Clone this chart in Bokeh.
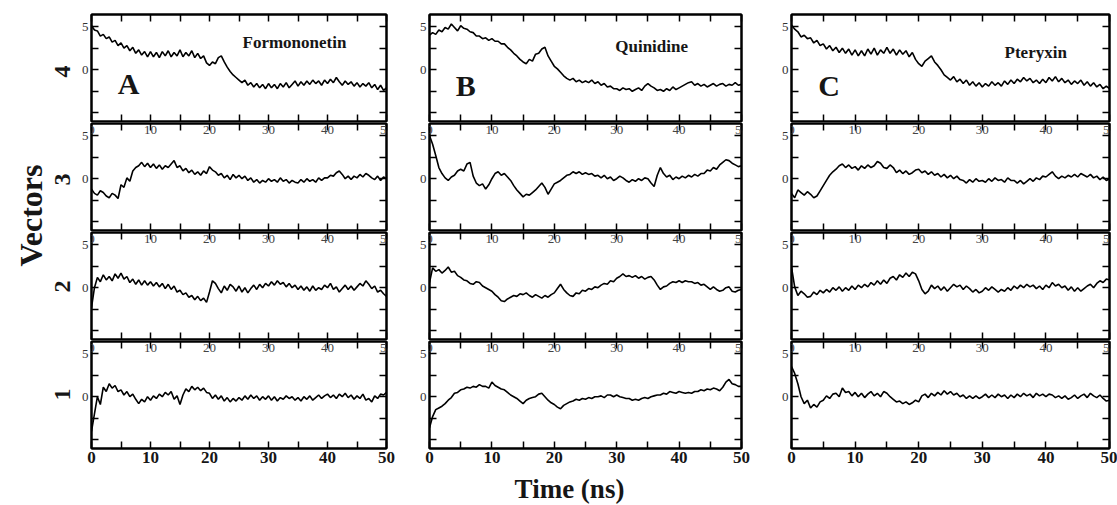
from math import pi
from bokeh.plotting import figure
from bokeh.models import Range1d, LinearAxis, FixedTicker, Label, LabelSet, ColumnDataSource
from bokeh.layouts import row, column
from bokeh.embed import file_html
from bokeh.resources import INLINE

# ---------------- data ----------------
time_ns = [i * 0.5 for i in range(101)]          # 0 .. 50 ns, 0.5 ns sampling
compounds = ["Formononetin", "Quinidine", "Pteryxin"]
panel_letters = ["A", "B", "C"]
vector_names = ["4", "3", "2", "1"]
x_major = [0, 10, 20, 30, 40, 50]
x_minor = [5, 15, 25, 35, 45]
x_tick_labels = ["0", "10", "20", "30", "40", "50"]
y_major = [-5, 0, 5]
y_minor = [-2.5, 2.5]

# Formononetin (A)
A4 = [5.1, 4.6, 4.5, 3.9, 4.1, 3.6, 3.8, 3.2, 3.4, 2.8,
      3.1, 2.5, 2.8, 2.2, 2.6, 1.9, 2.3, 1.7, 2.1, 1.5,
      2.1, 1.5, 2.0, 1.4, 2.1, 1.6, 2.2, 1.5, 2.0, 1.6,
      2.3, 1.5, 2.0, 1.6, 2.2, 1.4, 1.9, 1.3, 1.6, 0.8,
      0.5, 0.9, 0.7, 1.4, 1.6, 0.9, 0.3, -0.2, -0.6, -0.9,
      -1.2, -1.5, -1.2, -1.8, -1.5, -2.0, -1.6, -2.1, -1.7, -2.2,
      -1.6, -2.1, -1.7, -2.2, -1.6, -2.0, -1.5, -2.1, -1.7, -1.3,
      -1.9, -1.4, -1.8, -1.3, -1.7, -1.2, -1.6, -1.3, -1.8, -1.2,
      -1.6, -1.1, -1.5, -0.9, -1.4, -1.8, -1.3, -1.7, -1.4, -1.9,
      -1.5, -2.0, -1.6, -1.9, -1.5, -2.1, -1.7, -2.3, -1.8, -2.4,
      -2.1]
A3 = [-1.2, -1.7, -1.9, -1.4, -1.6, -2.0, -2.2, -1.7, -1.9, -2.3,
      -0.7, -1.0, 0.1, -0.3, 0.9, 1.3, 1.5, 1.9, 1.4, 1.8,
      1.3, 1.7, 1.2, 1.6, 1.1, 1.5, 1.3, 1.7, 2.1, 1.3,
      1.5, 0.9, 1.2, 0.7, 1.0, 0.5, 0.8, 0.4, 0.9, 0.6,
      1.4, 1.0, 0.8, 0.4, 0.6, 0.1, 0.4, -0.1, 0.5, 0.1,
      0.4, 0.0, 0.3, -0.2, 0.1, -0.4, -0.1, -0.5, -0.2, -0.4,
      0.0, -0.3, -0.1, -0.4, 0.1, -0.3, -0.1, -0.5, -0.2, -0.4,
      -0.5, -0.1, -0.4, 0.0, -0.3, -0.1, -0.4, 0.1, -0.2, 0.1,
      0.1, 0.4, 0.3, 0.7, 0.9, 0.5, 0.0, 0.3, -0.1, 0.3,
      0.1, 0.5, 0.2, 0.6, 0.4, 0.1, -0.1, 0.3, -0.2, 0.2,
      0.0]
A2 = [-2.3, 0.0, 1.2, 0.7, 1.5, 0.9, 1.3, 0.8, 1.6, 1.1,
      1.7, 1.0, 1.3, 0.6, 1.0, 0.4, 0.9, 0.3, 0.8, 0.3,
      0.7, 0.2, 0.6, 0.1, 0.5, -0.1, 0.4, -0.2, 0.2, -0.5,
      -0.3, -0.8, -0.6, -1.1, -0.9, -1.4, -1.0, -1.5, -1.2, -1.7,
      -0.5, 0.8, 0.5, -0.1, -0.6, 0.2, -0.3, 0.4, 0.1, -0.4,
      0.2, -0.5, 0.0, -0.6, -0.1, 0.3, -0.2, 0.4, 0.0, 0.5,
      0.2, 0.7, 0.3, 0.8, 0.4, 0.6, 0.1, 0.5, 0.0, 0.3,
      -0.2, 0.2, -0.3, 0.1, -0.4, 0.2, -0.3, 0.0, -0.2, 0.3,
      0.0, 0.5, -0.2, 0.1, -0.5, -0.1, 0.3, -0.2, 0.2, -0.3,
      0.1, 0.5, 0.2, 0.8, 0.4, -0.1, 0.2, -0.5, -0.3, -0.7,
      -1.0]
A1 = [-4.0, -2.0, 0.0, -0.9, 1.1, 0.6, 1.5, 1.0, 1.3, 0.6,
      0.8, 0.2, 0.6, 0.0, 0.3, -0.3, -0.8, -0.3, -0.6, 0.0,
      -0.4, 0.1, -0.2, 0.3, 0.0, 0.5, 0.2, 0.6, -0.3, 0.1,
      -0.9, 0.2, 0.9, 0.6, 1.2, 0.8, 1.1, 0.7, 1.0, 0.5,
      0.4, -0.2, 0.2, -0.3, 0.1, -0.5, -0.1, -0.6, -0.2, -0.5,
      -0.1, -0.4, 0.1, -0.3, 0.2, -0.2, 0.1, -0.4, 0.0, -0.3,
      0.1, -0.4, 0.0, -0.5, -0.1, -0.3, 0.1, -0.2, 0.0, -0.4,
      -0.1, -0.5, 0.0, -0.3, 0.1, -0.4, -0.1, 0.2, -0.2, 0.1,
      0.3, -0.1, 0.2, -0.2, 0.3, 0.0, 0.4, -0.1, 0.2, -0.3,
      0.1, -0.2, 0.3, -0.4, -0.2, -0.6, 0.1, -0.2, 0.3, 0.2,
      0.5]

# Quinidine (B)
B4 = [4.0, 4.3, 4.1, 4.6, 4.4, 4.9, 4.7, 5.3, 4.9, 4.5,
      5.1, 4.8, 4.7, 4.4, 4.3, 3.9, 3.9, 3.6, 3.7, 3.4,
      3.6, 3.3, 3.3, 3.0, 3.0, 2.6, 2.3, 1.9, 1.6, 1.2,
      0.9, 0.7, 1.2, 1.0, 1.8, 1.9, 2.4, 2.6, 1.6, 1.0,
      0.4, 0.1, -0.3, -0.7, -1.0, -1.2, -1.0, -1.4, -1.2, -1.5,
      -1.3, -1.5, -1.2, -1.6, -1.4, -1.8, -1.6, -2.0, -1.9, -2.2,
      -2.2, -2.4, -2.1, -2.3, -2.2, -2.5, -2.3, -2.1, -2.4, -1.9,
      -1.6, -1.9, -2.1, -2.4, -2.3, -2.5, -2.2, -2.4, -2.0, -2.3,
      -2.1, -1.9, -1.7, -1.5, -1.4, -1.8, -1.6, -1.9, -1.7, -2.0,
      -1.8, -1.6, -1.9, -1.7, -1.6, -1.9, -1.7, -1.8, -1.5, -1.8,
      -1.7]
B3 = [5.0, 4.0, 2.7, 1.3, 0.6, 0.1, -0.2, 0.2, 0.4, 0.9,
      1.1, 0.9, 1.7, 1.9, 0.3, -0.5, -0.8, -0.6, -1.2, -0.7,
      0.0, 0.6, 0.8, 0.4, 0.6, 0.2, -0.2, -0.8, -1.3, -1.7,
      -2.1, -1.8, -1.9, -1.6, -1.3, -0.9, -0.5, -1.0, -1.8, -1.2,
      -0.6, -0.4, -0.2, 0.1, 0.4, 0.5, 0.8, 0.6, 0.8, 0.5,
      0.7, 0.5, 0.6, 0.3, 0.4, 0.1, 0.4, 0.0, 0.2, -0.2,
      0.0, 0.3, 0.1, -0.2, -0.4, -0.1, -0.3, 0.0, -0.2, 0.1,
      0.0, -0.5, -0.9, 0.4, 1.3, 0.6, 0.2, 0.4, -0.1, 0.2,
      0.0, 0.3, 0.1, 0.4, 0.2, 0.5, 0.3, 0.6, 0.6, 1.0,
      0.9, 1.3, 1.1, 1.6, 1.9, 2.2, 2.1, 1.8, 1.6, 1.4,
      1.5]
B2 = [0.6, 2.3, 1.9, 2.1, 1.7, 2.0, 2.4, 1.8, 1.9, 1.4,
      1.2, 0.9, 0.8, 0.5, 0.4, 0.7, 0.6, 0.2, 0.0, -0.2,
      -0.4, -0.8, -1.1, -1.5, -1.6, -1.3, -1.1, -0.9, -1.0, -0.7,
      -0.8, -0.6, -0.9, -1.1, -0.8, -1.0, -1.2, -0.9, -1.1, -0.8,
      -0.6, -0.1, 0.4, -0.2, -0.6, -0.9, -1.0, -0.6, -0.7, -0.3,
      -0.4, -0.1, -0.2, 0.1, 0.0, 0.3, 0.5, 0.4, 0.8, 0.7,
      1.1, 1.3, 1.6, 1.3, 1.4, 1.2, 1.4, 1.1, 1.3, 1.0,
      1.2, 1.3, 0.9, 0.3, -0.2, 0.1, 0.2, 0.5, 0.7, 0.6,
      0.8, 0.6, 0.8, 0.7, 0.7, 0.5, 0.6, 0.3, 0.4, 0.1,
      -0.2, 0.1, -0.2, -0.4, -0.3, 0.0, 0.1, -0.4, -0.5, -0.3,
      -0.2]
B1 = [-3.6, -2.3, -1.5, -1.3, -1.1, -0.8, -0.4, -0.1, 0.4, 0.5,
      0.8, 0.9, 1.1, 1.0, 1.2, 1.1, 1.4, 1.2, 1.2, 1.0,
      1.7, 1.3, 1.1, 0.9, 0.8, 0.5, 0.2, 0.0, -0.2, -0.5,
      -0.8, -0.4, -0.2, -0.1, 0.0, 0.3, 0.4, 0.0, -0.4, -0.7,
      -0.9, -1.2, -1.4, -1.0, -0.8, -0.6, -0.5, -0.3, -0.4, -0.2,
      -0.3, -0.1, -0.2, 0.0, 0.0, 0.1, -0.1, 0.2, 0.2, 0.0,
      0.2, 0.0, -0.1, -0.2, -0.2, -0.4, -0.3, -0.4, -0.2, -0.1,
      -0.2, 0.0, 0.1, 0.2, 0.2, 0.4, 0.3, 0.6, 0.5, 0.4,
      0.6, 0.5, 0.4, 0.5, 0.4, 0.6, 0.6, 0.8, 0.7, 0.9,
      0.8, 1.0, 0.9, 0.7, 1.1, 1.7, 2.0, 1.5, 1.4, 1.2,
      1.2]

# Pteryxin (C)
C4 = [5.2, 4.7, 4.4, 3.8, 4.0, 3.6, 3.7, 3.1, 3.4, 2.8,
      3.0, 2.4, 2.8, 2.2, 2.6, 2.0, 2.5, 1.9, 2.4, 1.7,
      2.3, 1.6, 2.2, 1.6, 2.4, 1.8, 2.5, 1.7, 2.3, 1.9,
      2.6, 1.9, 2.4, 1.7, 2.3, 1.8, 2.2, 1.5, 2.0, 1.2,
      0.7, 0.4, 1.0, 1.3, 1.6, 0.9, 0.5, 0.0, -0.6, -0.9,
      -1.2, -0.8, -1.4, -1.1, -1.6, -1.2, -1.8, -1.4, -1.9, -1.5,
      -2.0, -1.6, -1.9, -1.4, -1.8, -1.5, -1.9, -1.3, -1.7, -1.2,
      -1.6, -1.1, -1.4, -0.9, -1.3, -1.0, -1.5, -1.2, -1.6, -1.1,
      -1.5, -0.9, -1.3, -0.8, -1.4, -1.0, -1.5, -1.2, -1.7, -1.3,
      -1.6, -1.2, -1.8, -1.4, -1.9, -1.5, -2.0, -1.7, -2.2, -1.9,
      -2.2]
C3 = [-1.7, -2.2, -1.3, -1.6, -1.9, -1.5, -1.8, -2.2, -2.0, -1.4,
      -0.8, -0.2, 0.4, 0.8, 1.1, 1.5, 1.7, 1.3, 1.6, 1.2,
      1.4, 1.0, 1.5, 1.2, 1.6, 1.3, 1.5, 2.0, 1.8, 1.3,
      1.2, 1.6, 1.3, 0.7, 1.0, 0.6, 0.9, 0.5, 0.7, 1.0,
      1.1, 0.7, 0.9, 0.5, 0.8, 0.4, 0.6, 0.2, 0.5, 0.1,
      0.4, 0.0, 0.3, -0.1, -0.2, -0.5, -0.1, -0.4, 0.0, -0.3,
      -0.2, -0.4, 0.0, -0.3, 0.1, -0.2, -0.1, -0.4, 0.1, -0.2,
      -0.2, -0.5, -0.2, -0.6, -0.3, 0.0, -0.3, 0.1, -0.1, 0.3,
      0.2, 0.5, 0.8, 0.3, 0.0, 0.3, 0.1, 0.4, 0.2, 0.5,
      0.2, 0.6, 0.4, 0.2, 0.5, 0.1, 0.3, -0.1, 0.2, -0.2,
      0.0]
C2 = [2.4, 0.1, -0.9, -0.4, -0.7, -1.1, -1.0, -0.5, -0.8, -0.3,
      -0.6, -0.2, -0.5, 0.0, -0.3, 0.1, -0.4, 0.0, -0.3, 0.2,
      -0.2, 0.3, 0.0, 0.4, 0.1, 0.6, 0.3, 0.8, 0.4, 0.9,
      0.5, 1.1, 1.3, 0.9, 1.5, 1.2, 1.7, 1.3, 1.8, 1.6,
      0.8, -0.2, -0.7, -0.4, 0.3, -0.1, 0.2, -0.3, 0.1, -0.4,
      0.0, 0.4, 0.1, 0.3, -0.2, 0.2, -0.1, -0.5, -0.2, -0.6,
      -0.4, 0.0, -0.3, 0.1, -0.2, -0.5, -0.2, -0.4, 0.0, -0.3,
      0.2, -0.1, 0.3, 0.0, 0.4, 0.1, 0.3, -0.1, 0.2, -0.2,
      0.3, 0.0, 0.6, 0.2, 0.4, 0.0, 0.2, -0.3, 0.1, -0.4,
      0.0, -0.4, -0.1, 0.2, 0.4, 0.0, 0.5, 0.8, 0.6, 1.0,
      0.9]
C1 = [3.5, 2.7, 1.5, 0.0, -0.8, -0.4, -1.3, -0.9, -1.2, -0.6,
      -0.4, 0.1, -0.2, 0.3, 0.4, 0.0, 1.0, 0.5, 0.6, 0.1,
      0.5, 0.0, 0.4, -0.1, 0.3, 0.6, 0.1, 0.4, 0.0, 0.6,
      0.4, 0.0, -0.3, -0.6, -0.5, -0.8, -0.6, -0.9, -0.7, -0.4,
      -0.6, 0.1, 0.3, -0.1, 0.4, 0.1, 0.5, 0.2, 0.7, 0.3,
      0.6, 0.2, 0.4, 0.0, 0.2, -0.2, 0.1, -0.2, 0.1, -0.2,
      0.0, 0.3, -0.1, 0.2, -0.1, 0.3, 0.0, 0.2, -0.2, 0.2,
      -0.1, 0.3, 0.0, 0.4, 0.1, 0.3, -0.1, 0.4, 0.1, 0.3,
      0.0, 0.3, 0.2, -0.1, 0.1, -0.2, 0.1, -0.3, -0.1, 0.2,
      -0.2, 0.1, 0.3, -0.1, 0.4, 0.1, -0.1, 0.2, -0.2, -0.5,
      -0.4]

series = [[A4, A3, A2, A1], [B4, B3, B2, B1], [C4, C3, C2, C1]]

# ---------------- styling / layout ----------------
SERIF = "Liberation Serif"
INK = "#161616"
Y_MIN, Y_MAX = -6.0, 6.4
FRAME_H = 107
TOP_B = 14
BOTTOM_B = 24
frame_w = [295, 312, 318]
border_left = [16, 30, 35]
border_right = [13, 15, 8]
name_pos = [(34.4, 3.16), (35.6, 2.7), (38.4, 2.0)]
letter_pos = [(6.3, -1.6), (5.8, -1.8), (5.9, -1.8)]


def hide_labels(ax):
    ax.major_label_text_font_size = "0px"
    ax.major_label_text_color = None
    ax.major_label_standoff = 0


def style_axis(ax):
    ax.axis_line_color = "black"
    ax.axis_line_width = 2
    ax.major_tick_in = 7
    ax.major_tick_out = 0
    ax.minor_tick_in = 7
    ax.minor_tick_out = 0
    ax.major_tick_line_width = 1.5
    ax.minor_tick_line_width = 1.5
    ax.major_tick_line_color = "black"
    ax.minor_tick_line_color = "black"


def make_panel(ci, ri, ys):
    p = figure(frame_width=frame_w[ci], frame_height=FRAME_H,
               min_border_left=border_left[ci], min_border_right=border_right[ci],
               min_border_top=TOP_B if ri == 0 else 1,
               min_border_bottom=BOTTOM_B if ri == 3 else 1,
               x_range=Range1d(0, 50), y_range=Range1d(Y_MIN, Y_MAX),
               x_axis_location=None, y_axis_location=None,
               output_backend="svg", toolbar_location=None, tools="")
    p.grid.visible = False
    p.outline_line_color = "black"
    p.outline_line_width = 2
    p.background_fill_color = "white"
    p.border_fill_color = "white"

    for side in ["below", "above"]:
        ax = LinearAxis(ticker=FixedTicker(ticks=x_major, minor_ticks=x_minor))
        style_axis(ax)
        if side == "below" and ri == 3:
            ax.major_label_text_font = SERIF
            ax.major_label_text_font_style = "bold"
            ax.major_label_text_font_size = "17px"
            ax.major_label_text_color = INK
            ax.major_label_standoff = 3
        else:
            hide_labels(ax)
        p.add_layout(ax, side)

    for side in ["left", "right"]:
        ax = LinearAxis(ticker=FixedTicker(ticks=y_major, minor_ticks=y_minor))
        style_axis(ax)
        if side == "left":
            ax.major_label_text_font = SERIF
            ax.major_label_text_font_size = "13px"
            ax.major_label_text_color = "#333333"
            ax.major_label_standoff = 3
            ax.major_label_overrides = {-5: ""}
        else:
            hide_labels(ax)
        p.add_layout(ax, side)

    p.line(time_ns, ys, line_color="black", line_width=1.6)

    if ri > 0:
        src = ColumnDataSource(dict(x=x_major, y=[Y_MAX] * len(x_major), text=x_tick_labels))
        p.add_layout(LabelSet(x="x", y="y", text="text", source=src,
                              text_font=SERIF, text_font_size="13px", text_color="#444444",
                              text_align="center", text_baseline="top", y_offset=-2))
    else:
        nx, ny = name_pos[ci]
        p.add_layout(Label(x=nx, y=ny, text=compounds[ci], text_font=SERIF,
                           text_font_style="bold", text_font_size="17px",
                           text_color=INK, text_align="center", text_baseline="middle"))
        lx, ly = letter_pos[ci]
        p.add_layout(Label(x=lx, y=ly, text=panel_letters[ci], text_font=SERIF,
                           text_font_style="bold", text_font_size="30px",
                           text_color=INK, text_align="center", text_baseline="middle"))
    return p


columns = []
for ci in range(3):
    columns.append(column(*[make_panel(ci, ri, series[ci][ri]) for ri in range(4)]))

# left strip: "Vectors" and the vector numbers (positions measured from top)
STRIP_W = 75
GRID_H = (TOP_B + FRAME_H + 1) + 2 * (1 + FRAME_H + 1) + (1 + FRAME_H + BOTTOM_B)
left = figure(width=STRIP_W, height=GRID_H, x_range=Range1d(0, STRIP_W),
              y_range=Range1d(0, GRID_H), min_border=0,
              x_axis_location=None, y_axis_location=None,
              output_backend="svg", toolbar_location=None, tools="")
left.outline_line_color = None
left.grid.visible = False
left.add_layout(Label(x=30, y=GRID_H - 215, text="Vectors", angle=pi / 2, text_font=SERIF,
                      text_font_style="bold", text_font_size="32px", text_color=INK,
                      text_align="center", text_baseline="middle"))
row_centers_from_top = [71, 179, 286, 394]
for name, yc in zip(vector_names, row_centers_from_top):
    left.add_layout(Label(x=62, y=GRID_H - yc, text=name, angle=pi / 2, text_font=SERIF,
                          text_font_style="bold", text_font_size="24px", text_color=INK,
                          text_align="center", text_baseline="middle"))

# bottom strip: "Time (ns)"
TOTAL_W = STRIP_W + sum(border_left) + sum(frame_w) + sum(border_right)
BOT_H = 505 - GRID_H
bottom = figure(width=TOTAL_W, height=BOT_H, x_range=Range1d(0, TOTAL_W),
                y_range=Range1d(0, BOT_H), min_border=0,
                x_axis_location=None, y_axis_location=None,
                output_backend="svg", toolbar_location=None, tools="")
bottom.outline_line_color = None
bottom.grid.visible = False
bottom.add_layout(Label(x=569, y=BOT_H / 2, text="Time (ns)", text_font=SERIF,
                        text_font_style="bold", text_font_size="27px", text_color=INK,
                        text_align="center", text_baseline="middle"))

layout = column(row(left, *columns), bottom)

open("out.html", "w").write(file_html(layout, INLINE))
